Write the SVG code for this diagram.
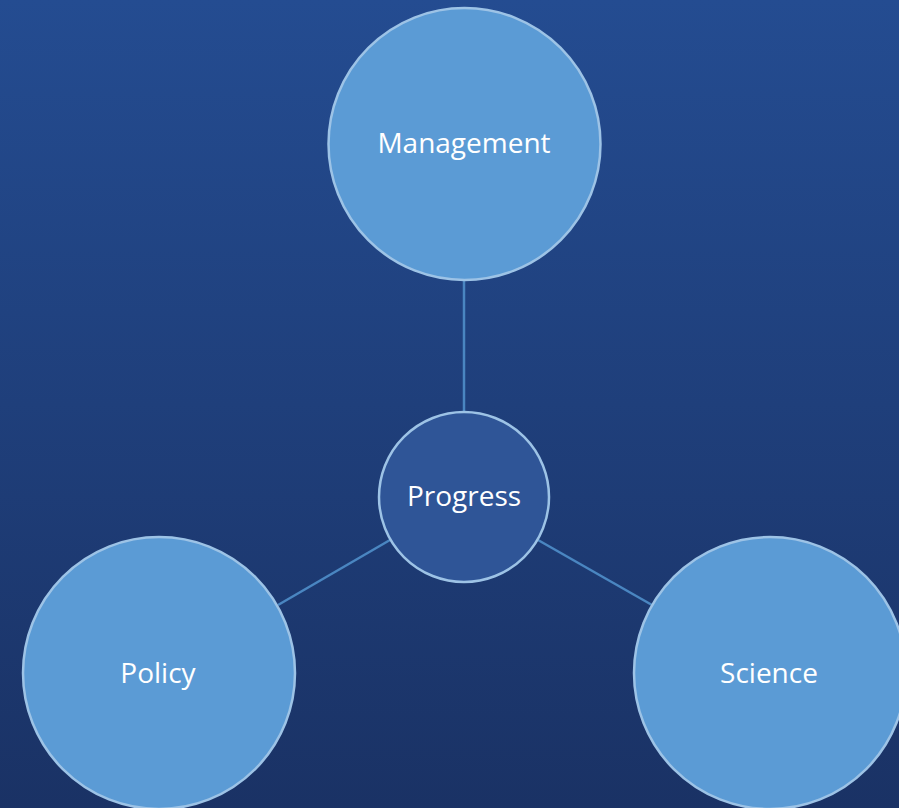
<svg xmlns="http://www.w3.org/2000/svg" width="899" height="808" viewBox="0 0 899 808">
<defs>
<linearGradient id="bg" x1="0" y1="0" x2="0" y2="1">
<stop offset="0" stop-color="#244c91"/>
<stop offset="1" stop-color="#1a3265"/>
</linearGradient>
</defs>
<style>
.outer{fill:#5b9bd5;stroke:#9dc3e6;stroke-width:2.5}
.hub{fill:#2f5597;stroke:#9dc3e6;stroke-width:2.5}
.lbl{font-family:"Open Sans","Liberation Sans",sans-serif;font-size:28px;fill:#ffffff;text-anchor:middle}
.conn{stroke:#4a86c1;stroke-width:2.5;fill:none}
</style>
<rect x="0" y="0" width="899" height="808" fill="url(#bg)"/>
<g id="connectors">
<line class="conn" x1="464" y1="280" x2="464" y2="412"/>
<line class="conn" x1="390" y1="540" x2="278" y2="605"/>
<line class="conn" x1="538" y1="540" x2="652" y2="605"/>
</g>
<g id="management">
<circle class="outer" cx="464.5" cy="144" r="136"/>
<text class="lbl" x="464" y="153">Management</text>
</g>
<g id="progress">
<circle class="hub" cx="464" cy="497" r="85"/>
<text class="lbl" x="464" y="506">Progress</text>
</g>
<g id="policy">
<circle class="outer" cx="159" cy="673" r="136"/>
<text class="lbl" x="158" y="683">Policy</text>
</g>
<g id="science">
<circle class="outer" cx="770" cy="673" r="136"/>
<text class="lbl" x="769" y="683">Science</text>
</g>
</svg>
